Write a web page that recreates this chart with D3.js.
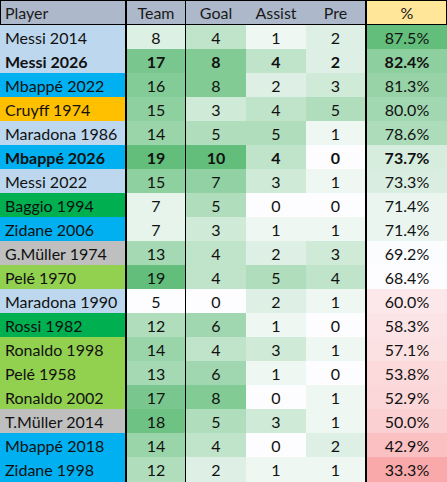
<!DOCTYPE html>
<html>
<head>
<meta charset="utf-8">
<script src="https://cdn.jsdelivr.net/npm/d3@7"></script>
<style>
html, body { margin: 0; padding: 0; background: #fff; }
svg { display: block; }
text { font-family: Lato, "Open Sans", sans-serif; }
</style>
</head>
<body>
<script>
var w = 447,
    h = 482;

var headers = ["Player", "Team", "Goal", "Assist", "Pre", "%"];

var players = ["Messi 2014", "Messi 2026", "Mbappé 2022", "Cruyff 1974", "Maradona 1986",
               "Mbappé 2026", "Messi 2022", "Baggio 1994", "Zidane 2006", "G.Müller 1974",
               "Pelé 1970", "Maradona 1990", "Rossi 1982", "Ronaldo 1998", "Pelé 1958",
               "Ronaldo 2002", "T.Müller 2014", "Mbappé 2018", "Zidane 1998"];
var team   = [8, 17, 16, 15, 14, 19, 15, 7, 7, 13, 19, 5, 12, 14, 13, 17, 18, 14, 12];
var goal   = [4, 8, 8, 3, 5, 10, 7, 5, 3, 4, 4, 0, 6, 4, 6, 8, 5, 4, 2];
var assist = [1, 4, 2, 4, 5, 4, 3, 0, 1, 2, 5, 2, 1, 3, 1, 0, 3, 0, 1];
var pre    = [2, 2, 3, 5, 1, 0, 1, 0, 1, 3, 4, 1, 0, 1, 0, 1, 1, 2, 1];
var pct    = [87.5, 82.4, 81.3, 80.0, 78.6, 73.7, 73.3, 71.4, 71.4, 69.2,
              68.4, 60.0, 58.3, 57.1, 53.8, 52.9, 50.0, 42.9, 33.3];
var nation = ["ARG", "ARG", "FRA", "NED", "ARG", "FRA", "ARG", "ITA", "FRA", "GER",
              "BRA", "ARG", "ITA", "BRA", "BRA", "BRA", "GER", "FRA", "FRA"];
var boldRows = ["Messi 2026", "Mbappé 2026"];

var nationColor = d3.scaleOrdinal()
    .domain(["ARG", "FRA", "NED", "ITA", "GER", "BRA"])
    .range(["#bdd7ee", "#00b0f0", "#ffc000", "#00b050", "#bfbfbf", "#92d050"]);

var teamColor = d3.scaleLinear().domain([5, 19]).range(["#fdfdff", "#63be7b"]);
var statColor = d3.scaleLinear().domain([0, 10]).range(["#fdfdff", "#63be7b"]);
var pctColor = d3.scaleLinear().domain([6, 69, 87.5]).range(["#f8696b", "#fdfdff", "#63be7b"]);

var y = d3.scaleBand().domain(players).range([25, 481]);

var colLeft = d3.scaleOrdinal().domain(headers).range([0, 127, 186, 246, 306, 367]);
var colRight = d3.scaleOrdinal().domain(headers).range([125, 185, 246, 306, 365, 447]);

function colMid(c) { return (colLeft(c) + colRight(c)) / 2; }

var svg = d3.select("body")
            .append("svg")
            .attr("width", w)
            .attr("height", h);

svg.append("rect").attr("width", w).attr("height", h).attr("fill", "#000");

// header row, boxed in at both ends
svg.selectAll("rect.head")
    .data(headers)
    .enter()
    .append("rect")
    .attr("class", "head")
    .attr("x", function(d) { return d === "Player" ? 1 : colLeft(d); })
    .attr("y", 1)
    .attr("width", function(d) {
        var right = d === "%" ? w - 1 : colRight(d);
        return right - (d === "Player" ? 1 : colLeft(d));
    })
    .attr("height", 23)
    .attr("fill", function(d) { return d === "%" ? "#ffe699" : "#adb9ca"; });

svg.selectAll("text.head")
    .data(headers)
    .enter()
    .append("text")
    .attr("class", "head")
    .text(function(d) { return d; })
    .attr("x", function(d) { return d === "Player" ? 5 : colMid(d); })
    .attr("y", 19)
    .attr("text-anchor", function(d) { return d === "Player" ? "start" : "middle"; })
    .attr("font-size", "16px")
    .attr("fill", "#1a1a1a");

// body cells, one column at a time
var columns = [
    { name: "Player", values: players, fill: function(d, i) { return nationColor(nation[i]); } },
    { name: "Team", values: team, fill: function(d) { return teamColor(d); } },
    { name: "Goal", values: goal, fill: function(d) { return statColor(d); } },
    { name: "Assist", values: assist, fill: function(d) { return statColor(d); } },
    { name: "Pre", values: pre, fill: function(d) { return statColor(d); } },
    { name: "%", values: pct, fill: function(d) { return pctColor(d); } }
];

columns.forEach(function(col) {
    var g = svg.append("g");

    g.selectAll("rect")
        .data(col.values)
        .enter()
        .append("rect")
        .attr("x", colLeft(col.name))
        .attr("y", function(d, i) { return y(players[i]); })
        .attr("width", colRight(col.name) - colLeft(col.name))
        // last row runs to the bottom edge, there is no closing line
        .attr("height", function(d, i) { return i === players.length - 1 ? h - y(players[i]) : y.bandwidth(); })
        .attr("fill", col.fill);

    g.selectAll("text")
        .data(col.values)
        .enter()
        .append("text")
        .text(function(d) { return col.name === "%" ? d.toFixed(1) + "%" : d; })
        .attr("x", col.name === "Player" ? 5 : colMid(col.name))
        .attr("y", function(d, i) { return y(players[i]) + 18.5; })
        .attr("text-anchor", col.name === "Player" ? "start" : "middle")
        .attr("font-size", "16px")
        .attr("font-weight", function(d, i) { return boldRows.indexOf(players[i]) >= 0 ? "bold" : "normal"; })
        .attr("fill", "#111");
});
</script>
</body>
</html>
